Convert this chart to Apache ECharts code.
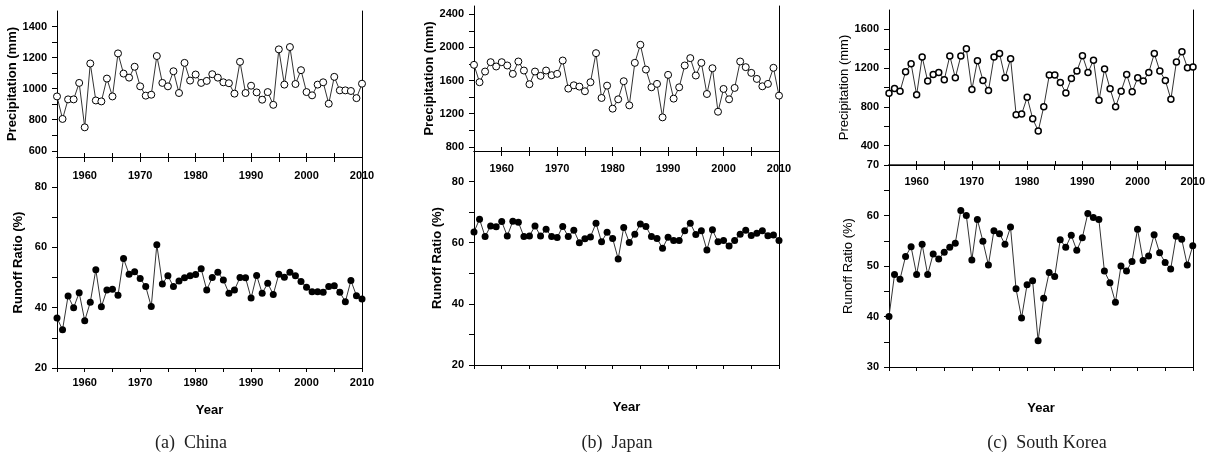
<!DOCTYPE html>
<html>
<head>
<meta charset="utf-8">
<title>Precipitation and runoff ratio</title>
<script src="https://cdn.jsdelivr.net/npm/echarts@6/dist/echarts.min.js"></script>
<style>
  html, body { margin: 0; padding: 0; background: #fff; }
  #main { width: 1208px; height: 456px; }
</style>
</head>
<body>
<div id="main"></div>
<script type="text/javascript">
// years on the x axis
var years = [1955, 1956, 1957, 1958, 1959, 1960, 1961, 1962, 1963, 1964,
             1965, 1966, 1967, 1968, 1969, 1970, 1971, 1972, 1973, 1974,
             1975, 1976, 1977, 1978, 1979, 1980, 1981, 1982, 1983, 1984,
             1985, 1986, 1987, 1988, 1989, 1990, 1991, 1992, 1993, 1994,
             1995, 1996, 1997, 1998, 1999, 2000, 2001, 2002, 2003, 2004,
             2005, 2006, 2007, 2008, 2009, 2010];

// China
var chinaPrecip = [950, 805, 931, 931, 1037, 751, 1162, 924, 918, 1065,
                   950, 1227, 1097, 1071, 1141, 1015, 955, 961, 1210, 1037,
                   1015, 1112, 972, 1166, 1052, 1091, 1037, 1050, 1093, 1071,
                   1041, 1035, 968, 1173, 972, 1019, 976, 929, 978, 896,
                   1253, 1026, 1268, 1030, 1119, 978, 957, 1026, 1041, 903,
                   1076, 989, 989, 985, 939, 1032];
var chinaRunoff = [36.6, 32.7, 43.9, 40.0, 45.0, 35.7, 41.8, 52.6, 40.3, 45.9,
                   46.1, 44.1, 56.3, 51.1, 51.9, 49.7, 47.0, 40.4, 60.9, 47.9,
                   50.6, 47.0, 48.9, 49.9, 50.6, 51.0, 52.9, 45.9, 50.0, 51.8,
                   49.2, 44.8, 45.9, 50.0, 49.9, 43.2, 50.7, 44.8, 48.1, 44.4,
                   51.1, 50.1, 51.8, 50.6, 48.7, 46.8, 45.3, 45.3, 45.1, 47.0,
                   47.3, 45.1, 42.0, 49.0, 44.0, 42.9];

// Japan
var japanPrecip = [1790, 1580, 1709, 1822, 1770, 1822, 1782, 1681, 1830, 1721,
                   1556, 1709, 1657, 1721, 1665, 1681, 1842, 1503, 1543, 1527,
                   1471, 1580, 1931, 1390, 1539, 1261, 1374, 1592, 1301, 1814,
                   2032, 1733, 1519, 1560, 1156, 1669, 1382, 1519, 1782, 1871,
                   1661, 1814, 1438, 1749, 1224, 1499, 1374, 1511, 1830, 1762,
                   1693, 1620, 1531, 1560, 1754, 1418];
var japanRunoff = [63.5, 67.7, 62.0, 65.5, 65.2, 66.9, 62.2, 67.0, 66.7, 62.0,
                   62.2, 65.5, 62.2, 64.4, 62.0, 61.7, 65.3, 62.0, 64.1, 60.0,
                   61.3, 61.9, 66.4, 60.3, 63.4, 61.4, 54.7, 65.0, 60.1, 62.8,
                   66.1, 65.3, 62.0, 61.4, 58.2, 61.8, 60.7, 60.7, 63.9, 66.4,
                   62.7, 63.9, 57.6, 64.2, 60.3, 60.7, 58.9, 60.7, 62.8, 64.1,
                   62.4, 63.1, 63.9, 62.3, 62.5, 60.7];

// South Korea
var koreaPrecip = [941, 990, 962, 1163, 1246, 924, 1316, 1066, 1135, 1156,
                   1080, 1326, 1101, 1326, 1399, 979, 1277, 1073, 969, 1316,
                   1350, 1101, 1298, 719, 726, 899, 677, 552, 802, 1128,
                   1128, 1052, 944, 1094, 1170, 1329, 1156, 1281, 868, 1191,
                   986, 802, 962, 1135, 955, 1101, 1066, 1156, 1350, 1170,
                   1073, 878, 1264, 1368, 1205, 1212];
var koreaRunoff = [40.0, 48.3, 47.4, 51.9, 53.8, 48.3, 54.3, 48.3, 52.4, 51.4,
                   52.7, 53.7, 54.5, 61.0, 60.0, 51.2, 59.2, 54.9, 50.2, 57.0,
                   56.4, 54.3, 57.7, 45.5, 39.7, 46.3, 47.1, 35.2, 43.6, 48.7,
                   47.9, 55.2, 53.7, 56.1, 53.1, 55.6, 60.4, 59.6, 59.2, 49.0,
                   46.7, 42.8, 50.0, 49.0, 50.9, 57.3, 51.1, 52.0, 56.2, 52.6,
                   50.7, 49.4, 55.9, 55.3, 50.2, 54.0];

// tick and label values of the y axes
var chinaPTicks = [600, 700, 800, 900, 1000, 1100, 1200, 1300, 1400];
var chinaPLabels = [600, 800, 1000, 1200, 1400];
var japanPTicks = [800, 1000, 1200, 1400, 1600, 1800, 2000, 2200, 2400];
var japanPLabels = [800, 1200, 1600, 2000, 2400];
var koreaPTicks = [200, 400, 600, 800, 1000, 1200, 1400, 1600];
var koreaPLabels = [400, 800, 1200, 1600];
var chinaRTicks = [20, 30, 40, 50, 60, 70, 80];
var chinaRLabels = [20, 40, 60, 80];
var japanRTicks = [20, 30, 40, 50, 60, 70, 80];
var japanRLabels = [20, 40, 60, 80];
var koreaRTicks = [30, 35, 40, 45, 50, 55, 60, 65, 70];
var koreaRLabels = [30, 40, 50, 60, 70];

var captions = ['(a)  China', '(b)  Japan', '(c)  South Korea'];

function pairs(vals) {
    var out = [];
    for (var i = 0; i < vals.length; i++) out.push([years[i], vals[i]]);
    return out;
}

// layout of the three panels (pixels)
var panels = [
    { left: 57, width: 305, top1: 11, h1: 146, top2: 157, h2: 211,
      pMin: 560, pMax: 1500, pTicks: chinaPTicks, pLabels: chinaPLabels,
      rMin: 20, rMax: 90, rTicks: chinaRTicks, rLabels: chinaRLabels,
      precip: chinaPrecip, runoff: chinaRunoff, bottomLabels: true,
      pGap: 38, rGap: 32, inMargin: 13, nameWeight: 'bold', sym: 7, symBorder: 1,
      yearY: 410, capX: 191, capY: 443 },
    { left: 474, width: 305, top1: 6, h1: 145, top2: 151, h2: 214,
      pMin: 750, pMax: 2500, pTicks: japanPTicks, pLabels: japanPLabels,
      rMin: 20, rMax: 90, rTicks: japanRTicks, rLabels: japanRLabels,
      precip: japanPrecip, runoff: japanRunoff, bottomLabels: false,
      pGap: 34, rGap: 30, inMargin: 12, nameWeight: 'bold', sym: 7, symBorder: 1,
      yearY: 407, capX: 617, capY: 443 },
    { left: 889, width: 304, top1: 10, h1: 155, top2: 165, h2: 202,
      pMin: 200, pMax: 1800, pTicks: koreaPTicks, pLabels: koreaPLabels,
      rMin: 30, rMax: 70, rTicks: koreaRTicks, rLabels: koreaRLabels,
      precip: koreaPrecip, runoff: koreaRunoff, bottomLabels: false,
      pGap: 35, rGap: 34, inMargin: 11, nameWeight: 'normal', sym: 6, symBorder: 1.5,
      yearY: 408, capX: 1047, capY: 443 }
];

var FONT = 'Liberation Sans, Arial, sans-serif';
var lineBlack = { show: true, lineStyle: { color: '#000', width: 1 } };
var labelStyle = { color: '#000', fontFamily: FONT, fontWeight: 'bold', fontSize: 11 };
var plain = function (v) { return String(v); };

var option = { animation: false, grid: [], xAxis: [], yAxis: [], series: [], graphic: [] };

panels.forEach(function (p, k) {
    var gTop = 2 * k, gBot = 2 * k + 1;
    option.grid.push({ left: p.left, top: p.top1, width: p.width, height: p.h1 });
    option.grid.push({ left: p.left, top: p.top2, width: p.width, height: p.h2 });

    var xBase = { type: 'value', min: 1955, max: 2010, interval: 5, splitLine: { show: false } };
    var yearFmt = function (v) { return v % 10 === 0 ? String(v) : ''; };

    // top plot: frame line on top, inward ticks at its bottom
    var xTopIdx = option.xAxis.length;
    option.xAxis.push(Object.assign({}, xBase, { gridIndex: gTop, position: 'top',
        axisLine: { show: true, lineStyle: { color: k === 2 ? '#555' : '#000', width: k === 2 ? 2 : 1 } },
        axisTick: { show: false }, axisLabel: { show: false } }));
    option.xAxis.push(Object.assign({}, xBase, { gridIndex: gTop, position: 'bottom',
        axisLine: { show: false }, axisTick: { show: true, inside: true, length: 4, lineStyle: { color: '#000' } },
        axisLabel: { show: false } }));
    // bottom plot: data axis at the bottom
    var xBotIdx = option.xAxis.length;
    option.xAxis.push(Object.assign({}, xBase, { gridIndex: gBot, position: 'bottom',
        axisLine: lineBlack, axisTick: { show: true, length: 4, lineStyle: { color: '#000' } },
        axisLabel: Object.assign({ show: p.bottomLabels, margin: 9, formatter: yearFmt }, labelStyle) }));
    // bottom plot: shared line on top, labels inside
    option.xAxis.push(Object.assign({}, xBase, { gridIndex: gBot, position: 'top',
        axisLine: lineBlack, axisTick: { show: true, inside: true, length: 5, lineStyle: { color: '#000' } },
        axisLabel: Object.assign({ show: true, inside: true, margin: p.inMargin, formatter: yearFmt,
            showMinLabel: false }, labelStyle) }));

    var nameStyle = { color: '#000', fontFamily: FONT, fontWeight: p.nameWeight, fontSize: 13 };

    var yTopIdx = option.yAxis.length;
    option.yAxis.push({ type: 'value', gridIndex: gTop, position: 'left', min: p.pMin, max: p.pMax,
        name: 'Precipitation (mm)', nameLocation: 'middle', nameGap: p.pGap, nameTextStyle: nameStyle,
        axisLine: lineBlack, splitLine: { show: false },
        axisTick: { show: true, length: 5, lineStyle: { color: '#000' }, customValues: p.pTicks },
        axisLabel: Object.assign({ margin: 10, customValues: p.pLabels, formatter: plain }, labelStyle) });
    option.yAxis.push({ type: 'value', gridIndex: gTop, position: 'right', min: 0, max: 1,
        axisLine: lineBlack, axisTick: { show: false }, axisLabel: { show: false }, splitLine: { show: false } });

    var yBotIdx = option.yAxis.length;
    option.yAxis.push({ type: 'value', gridIndex: gBot, position: 'left', min: p.rMin, max: p.rMax,
        name: 'Runoff Ratio (%)', nameLocation: 'middle', nameGap: p.rGap, nameTextStyle: nameStyle,
        axisLine: lineBlack, splitLine: { show: false },
        axisTick: { show: true, length: 5, lineStyle: { color: '#000' }, customValues: p.rTicks },
        axisLabel: Object.assign({ margin: 10, customValues: p.rLabels, formatter: plain }, labelStyle) });
    option.yAxis.push({ type: 'value', gridIndex: gBot, position: 'right', min: 0, max: 1,
        axisLine: lineBlack, axisTick: { show: false }, axisLabel: { show: false }, splitLine: { show: false } });

    option.series.push({
        type: 'line', xAxisIndex: xTopIdx, yAxisIndex: yTopIdx, data: pairs(p.precip),
        symbol: 'circle', symbolSize: p.sym,
        itemStyle: { color: '#fff', borderColor: '#000', borderWidth: p.symBorder },
        lineStyle: { color: '#333', width: 1 }
    });
    option.series.push({
        type: 'line', xAxisIndex: xBotIdx, yAxisIndex: yBotIdx, data: pairs(p.runoff),
        symbol: 'circle', symbolSize: 7,
        itemStyle: { color: '#000', borderColor: '#000', borderWidth: 0 },
        lineStyle: { color: '#333', width: 1 }
    });

    option.graphic.push({ type: 'text', x: p.left + p.width / 2, y: p.yearY,
        style: { text: 'Year', fill: '#000', font: 'bold 13px ' + FONT, textAlign: 'center', textVerticalAlign: 'middle' } });
    option.graphic.push({ type: 'text', x: p.capX, y: p.capY,
        style: { text: captions[k], fill: '#222', font: '18px "Liberation Serif", "DejaVu Serif", serif',
            textAlign: 'center', textVerticalAlign: 'middle' } });
});

var myChart = echarts.init(document.getElementById('main'));
myChart.setOption(option);
</script>
</body>
</html>
